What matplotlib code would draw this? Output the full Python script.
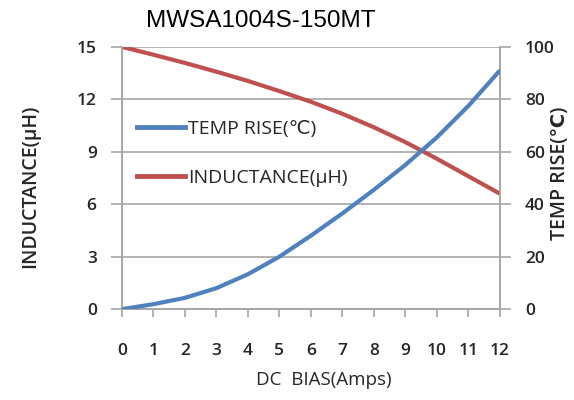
import numpy as np
import matplotlib
matplotlib.use('Agg')
import matplotlib.pyplot as plt
from matplotlib.lines import Line2D

# data
dc_bias = [0, 1, 2, 3, 4, 5, 6, 7, 8, 9, 10, 11, 12]
inductance = [15.0, 14.55, 14.08, 13.58, 13.05, 12.47, 11.86, 11.17, 10.4, 9.55, 8.6, 7.6, 6.6]
temp_rise = [0.0, 1.9, 4.3, 8.0, 13.3, 20.0, 28.0, 36.5, 45.5, 55.0, 65.5, 77.5, 91.0]

x_ticks = list(range(0, 13))
l_ticks = [0, 3, 6, 9, 12, 15]
r_ticks = [0, 20, 40, 60, 80, 100]

title = 'MWSA1004S-150MT'
x_name = 'DC  BIAS(Amps)'
y_name = 'INDUCTANCE(μH)'
y2_name = 'TEMP RISE(℃)'

BLUE = '#4F81BD'
RED = '#C0504D'
GRID = '#A6A6A6'
TXT = '#262626'

plt.rcParams['font.family'] = ['Open Sans', 'DejaVu Sans']

fig = plt.figure(figsize=(5.74, 4.00), dpi=100)
ax = fig.add_axes([0.212, 0.227, 0.659, 0.656])
ax2 = ax.twinx()

ax.plot(dc_bias, inductance, '-', color=RED, lw=3.0, solid_capstyle='butt', zorder=3)
ax2.plot(dc_bias, temp_rise, '-', color=BLUE, lw=3.0, solid_capstyle='butt', zorder=3)

ax.set_xlim(0, 12)
ax.set_ylim(0, 15)
ax2.set_ylim(0, 100)
ax.set_xticks(x_ticks)
ax.set_yticks(l_ticks)
ax2.set_yticks(r_ticks)

ax.grid(axis='y', color=GRID, lw=1.2)
ax.set_axisbelow(True)

for a in (ax, ax2):
    a.spines['top'].set_visible(False)
    for s in ('left', 'right', 'bottom'):
        a.spines[s].set_color(GRID)
        a.spines[s].set_linewidth(1.2)

ax.tick_params(axis='x', direction='out', length=6, width=1.2, color=GRID, pad=18,
               labelsize=12.5, labelcolor=TXT)
ax.tick_params(axis='y', direction='out', length=8, width=1.2, color=GRID, pad=10,
               labelsize=12.5, labelcolor=TXT)
ax2.tick_params(axis='y', direction='out', length=8, width=1.2, color=GRID, pad=10,
                labelsize=12.5, labelcolor=TXT)
for lab in ax.get_yticklabels() + ax2.get_yticklabels() + ax.get_xticklabels():
    lab.set_fontweight('semibold')

fig.text(0.455, 0.948, title, ha='center', va='center', fontsize=17.5,
         family=['Liberation Sans', 'DejaVu Sans'], color='black')
fig.text(0.052, 0.535, y_name, rotation=90, ha='center', va='center', fontsize=14,
         fontweight='semibold', color=TXT)
fig.text(0.976, 0.567, y2_name, rotation=90, ha='center', va='center', fontsize=14,
         fontweight='semibold', color=TXT)
fig.text(0.564, 0.05, x_name, ha='center', va='center', fontsize=13.5, color=TXT)

handles = [Line2D([], [], color=BLUE, lw=3.5), Line2D([], [], color=RED, lw=3.5)]
ax.legend(handles, ['TEMP RISE(℃)', 'INDUCTANCE(μH)'], loc='center left',
          bbox_to_anchor=(0.014, 0.594), frameon=False, fontsize=14, borderpad=0,
          handlelength=2.5, handletextpad=0.15, labelspacing=1.6, labelcolor=TXT)

fig.savefig('out.png', dpi=100)
